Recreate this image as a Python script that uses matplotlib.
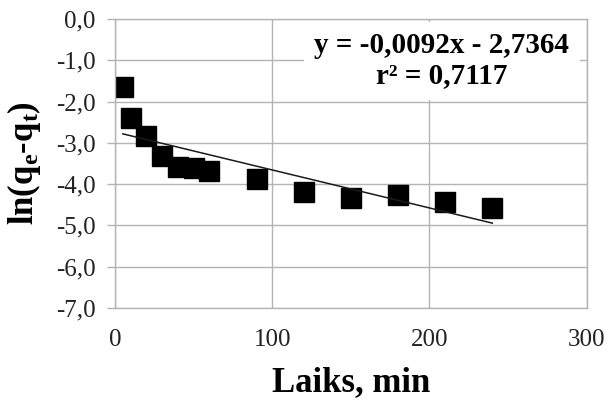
import numpy as np
import matplotlib
matplotlib.use('Agg')
import matplotlib.pyplot as plt
from matplotlib.ticker import FuncFormatter

# time in minutes and ln(qe-qt)
laiks = [5, 10, 20, 30, 40, 50, 60, 90, 120, 150, 180, 210, 240]
ln_q = [-1.65, -2.40, -2.84, -3.33, -3.58, -3.61, -3.68, -3.87, -4.18, -4.33, -4.27, -4.43, -4.58]

# linear trendline as printed on the chart
slope = -0.0092
intercept = -2.7364
r2 = 0.7117

x_ticks = [0, 100, 200, 300]
y_ticks = [0, -1, -2, -3, -4, -5, -6, -7]


def comma(v, pos=None):
    return ('%.1f' % v).replace('.', ',')


def main():
    plt.rcParams['font.family'] = ['Liberation Serif', 'DejaVu Serif']
    plt.rcParams['mathtext.fontset'] = 'custom'
    plt.rcParams['mathtext.rm'] = 'Liberation Serif:bold'
    plt.rcParams['mathtext.it'] = 'Liberation Serif:bold'

    fig = plt.figure(figsize=(6.16, 4.11), dpi=100)
    ax = fig.add_axes([0.1867, 0.2506, 0.9524 - 0.1867, 0.9538 - 0.2506])

    grid_col = '#b4b4b4'
    ax.plot(laiks, ln_q, 's', color='black', ms=14, zorder=2)

    trend_x = np.array([laiks[0], laiks[-1]])
    ax.plot(trend_x, slope * trend_x + intercept, color='#1a1a1a', lw=1.1, zorder=3)

    ax.set_xlim(0, 300)
    ax.set_ylim(-7, 0)
    ax.set_xticks(x_ticks)
    ax.set_yticks(y_ticks)
    ax.yaxis.set_major_formatter(FuncFormatter(comma))
    ax.grid(True, color=grid_col, lw=1.0, zorder=0)
    ax.set_axisbelow(True)
    for s in ax.spines.values():
        s.set_color(grid_col)
        s.set_linewidth(1.0)

    ax.tick_params(axis='x', length=0, pad=15, labelsize=18, colors='#222222')
    ax.tick_params(axis='y', length=6, width=1.0, color=grid_col, pad=8, labelsize=18,
                   labelcolor='#222222')

    ax.set_xlabel('Laiks, min', fontsize=25, fontweight='bold', labelpad=11)
    ax.set_ylabel(r'ln(q$_\mathregular{e}$-q$_\mathregular{t}$)', fontsize=25,
                  fontweight='bold', labelpad=9)

    eq = 'y = %sx - %s' % (('%.4f' % slope).replace('.', ','), ('%.4f' % -intercept).replace('.', ','))
    eq += '\nr\u00b2 = ' + ('%.4f' % r2).replace('.', ',')
    ax.text(0.693, 0.855, eq, transform=ax.transAxes, ha='center', va='center',
            fontsize=21, fontweight='bold', linespacing=1.15,
            bbox=dict(boxstyle='square,pad=0.35', fc='white', ec='none'), zorder=4)

    fig.savefig('out.png', dpi=100)


if __name__ == '__main__':
    main()
